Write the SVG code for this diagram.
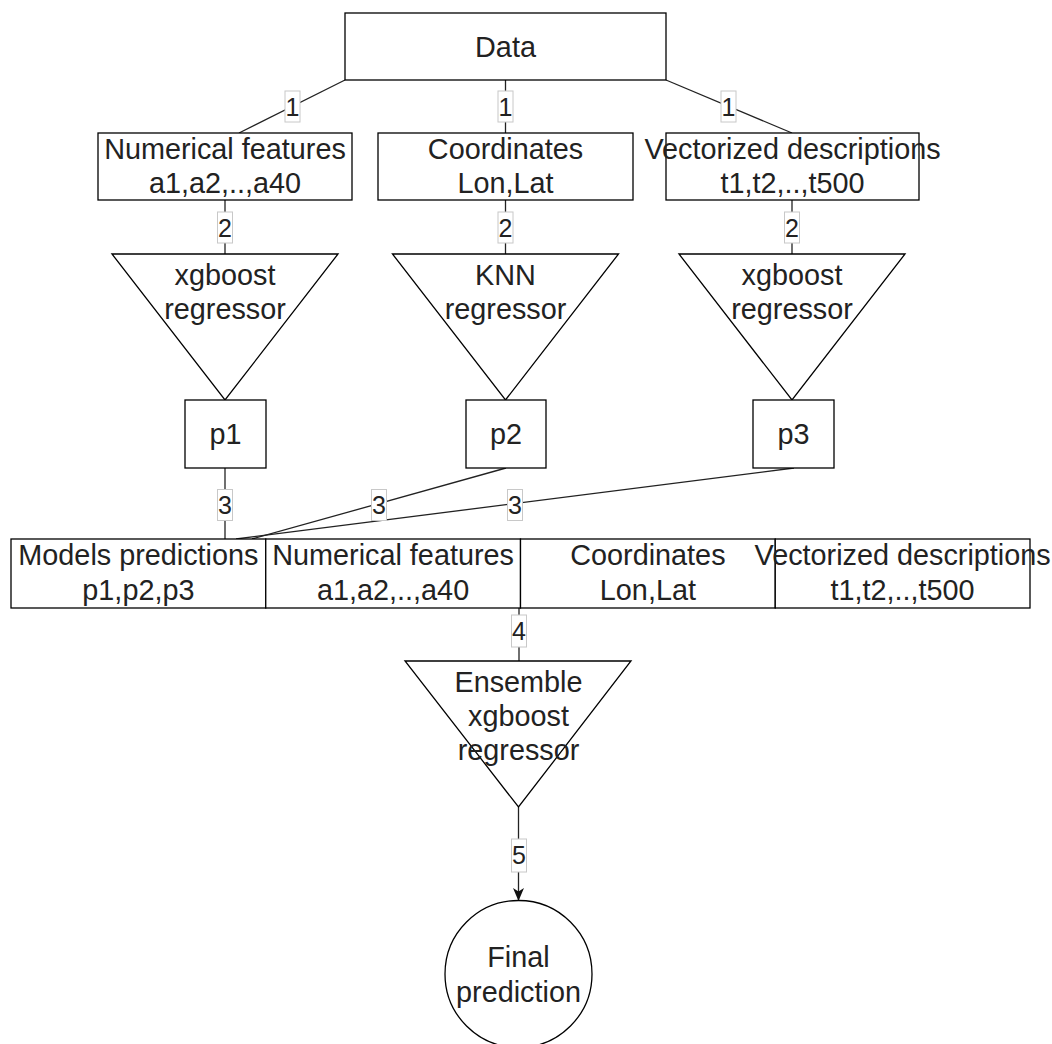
<svg xmlns="http://www.w3.org/2000/svg" width="1052" height="1044" viewBox="0 0 1052 1044">
<defs>
<style>
.n{fill:#fff;stroke:#000;stroke-width:1.3}
.t{font-family:"Liberation Sans",Arial,sans-serif;font-size:28.8px;fill:#222;text-anchor:middle}
.e{fill:none;stroke:#222;stroke-width:1.3}
.lb{fill:#fff;stroke:#c8c8c8;stroke-width:1}
.lt{font-family:"Liberation Sans",Arial,sans-serif;font-size:25px;fill:#222;text-anchor:middle}
</style>
<marker id="arr" markerUnits="userSpaceOnUse" markerWidth="14" markerHeight="14" viewBox="0 0 14 14" refX="13" refY="7" orient="auto">
<path d="M0,1.5 L13,7 L0,12.5 L3.5,7 Z" fill="#111"/>
</marker>
</defs>
<rect width="1052" height="1044" fill="#fff"/>

<g id="connectors">
<line class="e" x1="345" y1="80" x2="239" y2="133"/>
<line class="e" x1="505.5" y1="80" x2="505.5" y2="133"/>
<line class="e" x1="666" y1="80" x2="792" y2="133"/>
<line class="e" x1="225" y1="200" x2="225" y2="254"/>
<line class="e" x1="505.5" y1="200" x2="505.5" y2="254"/>
<line class="e" x1="792" y1="200" x2="792" y2="254"/>
<line class="e" x1="225" y1="468" x2="225" y2="539"/>
<line class="e" x1="506" y1="468" x2="252" y2="539"/>
<line class="e" x1="794" y1="468" x2="236" y2="539"/>
<line class="e" x1="519" y1="608" x2="519" y2="661"/>
<line class="e" x1="518.5" y1="807" x2="518.5" y2="901" marker-end="url(#arr)"/>
<g id="edge-labels">
<rect class="lb" x="285" y="91" width="15" height="31"/><text class="lt" x="292.5" y="115.5">1</text>
<rect class="lb" x="498" y="91" width="15" height="31"/><text class="lt" x="505.5" y="115.5">1</text>
<rect class="lb" x="721" y="91" width="15" height="31"/><text class="lt" x="728.5" y="115.5">1</text>
<rect class="lb" x="217.5" y="212" width="15" height="31"/><text class="lt" x="225" y="236.5">2</text>
<rect class="lb" x="498" y="212" width="15" height="31"/><text class="lt" x="505.5" y="236.5">2</text>
<rect class="lb" x="784.5" y="212" width="15" height="31"/><text class="lt" x="792" y="236.5">2</text>
<rect class="lb" x="217.5" y="489.5" width="15" height="31"/><text class="lt" x="225" y="514">3</text>
<rect class="lb" x="371.5" y="489.5" width="15" height="31"/><text class="lt" x="379" y="514">3</text>
<rect class="lb" x="507.5" y="489.5" width="15" height="31"/><text class="lt" x="515" y="514">3</text>
<rect class="lb" x="511.5" y="615" width="15" height="32"/><text class="lt" x="519" y="639.5">4</text>
<rect class="lb" x="511.5" y="839" width="15" height="33"/><text class="lt" x="519" y="864">5</text>
</g>
</g>

<g id="data"><rect class="n" x="345" y="13" width="321" height="67"/><text class="t" x="505.5" y="56.5">Data</text></g>

<g id="numerical"><rect class="n" x="98" y="133" width="254" height="67"/><text class="t" x="225" y="158.5">Numerical features</text><text class="t" x="225" y="193">a1,a2,..,a40</text></g>
<g id="coordinates"><rect class="n" x="378" y="133" width="255" height="67"/><text class="t" x="505.5" y="158.5">Coordinates</text><text class="t" x="505.5" y="193">Lon,Lat</text></g>
<g id="vectorized"><rect class="n" x="666" y="133" width="253" height="67"/><text class="t" x="792.5" y="158.5">Vectorized descriptions</text><text class="t" x="792.5" y="193">t1,t2,..,t500</text></g>

<g id="xgb1"><polygon class="n" points="112,254 338,254 225,400"/><text class="t" x="225" y="285">xgboost</text><text class="t" x="225" y="319">regressor</text></g>
<g id="knn"><polygon class="n" points="392.5,254 618.5,254 505.5,400"/><text class="t" x="505.5" y="285">KNN</text><text class="t" x="505.5" y="319">regressor</text></g>
<g id="xgb3"><polygon class="n" points="679,254 905,254 792,400"/><text class="t" x="792" y="285">xgboost</text><text class="t" x="792" y="319">regressor</text></g>

<g id="p1"><rect class="n" x="185" y="400" width="81" height="68"/><text class="t" x="225.5" y="444">p1</text></g>
<g id="p2"><rect class="n" x="466" y="400" width="80" height="68"/><text class="t" x="506" y="444">p2</text></g>
<g id="p3"><rect class="n" x="753" y="400" width="81" height="68"/><text class="t" x="793.5" y="444">p3</text></g>

<g id="combined">
<rect class="n" x="11" y="539" width="254.75" height="69"/>
<rect class="n" x="265.75" y="539" width="254.75" height="69"/>
<rect class="n" x="520.5" y="539" width="254.75" height="69"/>
<rect class="n" x="775.25" y="539" width="254.75" height="69"/>
<text class="t" x="138.4" y="564.5">Models predictions</text><text class="t" x="138.4" y="599.5">p1,p2,p3</text>
<text class="t" x="393.1" y="564.5">Numerical features</text><text class="t" x="393.1" y="599.5">a1,a2,..,a40</text>
<text class="t" x="647.9" y="564.5">Coordinates</text><text class="t" x="647.9" y="599.5">Lon,Lat</text>
<text class="t" x="902.6" y="564.5">Vectorized descriptions</text><text class="t" x="902.6" y="599.5">t1,t2,..,t500</text>
</g>

<g id="ensemble"><polygon class="n" points="405,661 631,661 518.5,807"/><text class="t" x="518.5" y="692">Ensemble</text><text class="t" x="518.5" y="726">xgboost</text><text class="t" x="518.5" y="760">regressor</text></g>

<g id="final"><circle class="n" cx="518.5" cy="974" r="73.5"/><text class="t" x="518.5" y="967">Final</text><text class="t" x="518.5" y="1001.5">prediction</text></g>
</svg>
